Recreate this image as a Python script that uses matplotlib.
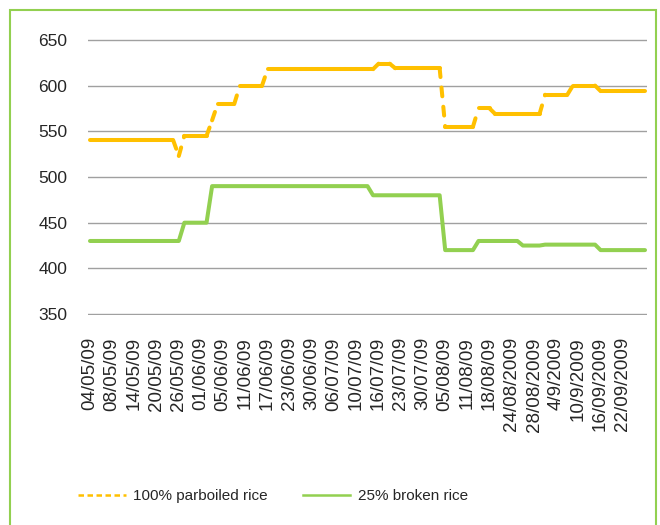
import numpy as np
import matplotlib
matplotlib.use("Agg")
import matplotlib.pyplot as plt
from matplotlib.collections import LineCollection
from matplotlib.lines import Line2D
from matplotlib.patches import Rectangle

plt.rcParams['font.family'] = ['Liberation Sans', 'DejaVu Sans']

# Axis labels (every 4th data point is labelled)
tick_labels = ['04/05/09', '08/05/09', '14/05/09', '20/05/09', '26/05/09',
               '01/06/09', '05/06/09', '11/06/09', '17/06/09', '23/06/09',
               '30/06/09', '06/07/09', '10/07/09', '16/07/09', '23/07/09',
               '30/07/09', '05/08/09', '11/08/09', '18/08/09', '24/08/2009',
               '28/08/2009', '4/9/2009', '10/9/2009', '16/09/2009', '22/09/2009']

# Prices (US$/t), one value per data point
parboiled = [540, 540, 540, 540, 540, 540, 540, 540, 540, 540,
             540, 540, 540, 540, 540, 540, 523, 545, 545, 545,
             545, 545, 562, 580, 580, 580, 580, 600, 600, 600,
             600, 600, 618, 618, 618, 618, 618, 618, 618, 618,
             618, 618, 618, 618, 618, 618, 618, 618, 618, 618,
             618, 618, 624, 624, 624, 619, 619, 619, 619, 619,
             619, 619, 619, 619, 555, 555, 555, 555, 555, 555,
             575, 575, 575, 569, 569, 569, 569, 569, 569, 569,
             569, 569, 590, 590, 590, 590, 590, 600, 600, 600,
             600, 600, 594, 594, 594, 594, 594, 594, 594, 594,
             594]

broken = [430, 430, 430, 430, 430, 430, 430, 430, 430, 430,
          430, 430, 430, 430, 430, 430, 430, 450, 450, 450,
          450, 450, 490, 490, 490, 490, 490, 490, 490, 490,
          490, 490, 490, 490, 490, 490, 490, 490, 490, 490,
          490, 490, 490, 490, 490, 490, 490, 490, 490, 490,
          490, 480, 480, 480, 480, 480, 480, 480, 480, 480,
          480, 480, 480, 480, 420, 420, 420, 420, 420, 420,
          430, 430, 430, 430, 430, 430, 430, 430, 425, 425,
          425, 425, 426, 426, 426, 426, 426, 426, 426, 426,
          426, 426, 420, 420, 420, 420, 420, 420, 420, 420,
          420]

orange = '#FFC000'
green = '#92D050'
text_col = '#262626'

fig = plt.figure(figsize=(6.6, 5.25), dpi=100)
ax = fig.add_axes([88 / 660, 210 / 525, 559 / 660, 276 / 525])

x = np.arange(len(parboiled))

# Dashed series: pattern restarts on every segment (like Excel does)
pts = np.column_stack([x, parboiled])
segs = np.stack([pts[:-1], pts[1:]], axis=1)
lc = LineCollection(segs, colors=orange, linewidths=2.9,
                    linestyles=[(0, (2.2, 2.6))], capstyle='round',
                    joinstyle='round', zorder=3)
ax.add_collection(lc)

ax.plot(x, broken, color=green, lw=2.9, solid_capstyle='round',
        solid_joinstyle='round', zorder=3)

ax.set_xlim(-0.36, 100.36)
ax.set_ylim(349, 651)
ax.set_yticks(np.arange(350, 651, 50))
ax.set_xticks(np.arange(0, 4 * len(tick_labels), 4))
ax.set_xticklabels(tick_labels, rotation=90)

ax.grid(axis='y', color='#A0A0A0', lw=1.0)
ax.set_axisbelow(True)
for s in ax.spines.values():
    s.set_visible(False)
ax.tick_params(axis='x', length=0, pad=16, labelsize=13.5, colors=text_col)
ax.tick_params(axis='y', length=0, pad=15, labelsize=12.5, colors=text_col)

# Legend
handles = [Line2D([], [], color=orange, lw=1.8, dashes=(2.2, 1.4)),
           Line2D([], [], color=green, lw=1.8)]
fig.legend(handles, ['100% parboiled rice', '25% broken rice'],
           loc='center', bbox_to_anchor=(0.414, 0.055), ncol=2,
           frameon=False, fontsize=11, handlelength=3.1,
           columnspacing=2.3, handletextpad=0.5, labelcolor=text_col)

# Green frame around the chart
fig.patches.append(Rectangle((10 / 660, -0.1), 646 / 660, 1.1 - 10 / 525,
                             transform=fig.transFigure, fill=False,
                             ec=green, lw=1.5))

fig.savefig('out.png', dpi=100)
